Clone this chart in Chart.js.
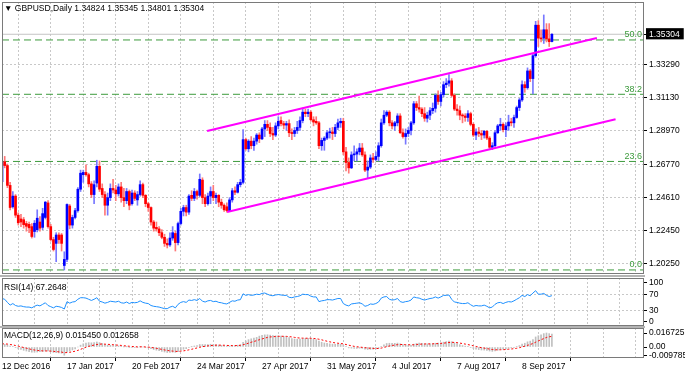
<!DOCTYPE html>
<html><head><meta charset="utf-8">
<script src="https://cdn.jsdelivr.net/npm/chart.js@4.4.1/dist/chart.umd.min.js"></script>
<style>
html,body{margin:0;padding:0;background:#fff;}
#wrap{position:relative;width:685px;height:375px;overflow:hidden;background:#fff;font-family:'Liberation Sans',Arial,sans-serif;}
canvas{position:absolute;left:0;}
.lbl{position:absolute;font-size:8.5px;line-height:10px;color:#000;white-space:nowrap;}
.sep{position:absolute;left:0;width:645px;height:2px;background:#b4b4b4;}
</style></head><body>
<div id="wrap">
<canvas id="cMain" width="685" height="277" style="top:0"></canvas>
<canvas id="cRsi" width="685" height="50" style="top:277px"></canvas>
<canvas id="cMacd" width="685" height="48" style="top:327px"></canvas>
<div class="sep" style="top:275px"></div>
<div class="sep" style="top:326px"></div>
<div class="lbl" id="hdr" style="left:4px;top:3px"></div>
<div class="lbl" id="rsiLbl" style="left:4px;top:282px"></div>
<div class="lbl" id="macdLbl" style="left:4px;top:330px"></div>
</div>
<script>
const symbol = 'GBPUSD', period = 'Daily';
const tickLabels = ['12 Dec 2016','17 Jan 2017','20 Feb 2017','24 Mar 2017','27 Apr 2017','31 May 2017','4 Jul 2017','7 Aug 2017','8 Sep 2017'];
const priceTicks = [1.2025,1.2245,1.2461,1.2677,1.2897,1.3113,1.3329];

const openP = [
1.2565,1.2695,1.2670,1.2540,1.2400,1.2470,1.2345,1.2320,1.2315,1.2290,1.2285,1.2270,
1.2238,1.2250,1.2300,1.2265,1.2330,1.2425,1.2270,1.2185,1.2160,1.2215,1.2215,1.2015,
1.2055,1.2405,1.2280,1.2330,1.2375,1.2515,1.2610,1.2625,1.2610,1.2550,1.2480,1.2555,
1.2665,1.2520,1.2480,1.2410,1.2460,1.2520,1.2510,1.2485,1.2530,1.2460,1.2440,1.2500,
1.2420,1.2490,1.2445,1.2480,1.2545,1.2475,1.2420,1.2395,1.2300,1.2265,1.2255,1.2230,
1.2200,1.2160,1.2150,1.2195,1.2225,1.2165,1.2290,1.2370,1.2395,1.2365,1.2475,1.2455,
1.2500,1.2475,1.2575,1.2460,1.2420,1.2470,1.2500,1.2460,1.2475,1.2430,1.2410,1.2400,
1.2375,1.2445,1.2505,1.2495,1.2545,1.2560,1.2840,1.2780,1.2830,1.2800,1.2830,1.2870,
1.2845,1.2910,1.2940,1.2920,1.2880,1.2870,1.2930,1.2965,1.2945,1.2935,1.2945,1.2885,
1.2880,1.2900,1.2920,1.2965,1.3020,1.3010,1.3020,1.2970,1.2960,1.2950,1.2800,1.2835,
1.2850,1.2885,1.2890,1.2880,1.2920,1.2950,1.2960,1.2760,1.2690,1.2655,1.2740,1.2745,
1.2760,1.2785,1.2740,1.2640,1.2660,1.2720,1.2710,1.2730,1.2800,1.2950,1.3000,1.3020,
1.2950,1.2930,1.2950,1.2995,1.2885,1.2860,1.2880,1.2900,1.2950,1.3075,1.3050,1.3040,
1.3010,1.2980,1.3000,1.3030,1.3045,1.3130,1.3090,1.3135,1.3200,1.3210,1.3225,1.3130,
1.3040,1.3030,1.3000,1.2995,1.2985,1.3010,1.2940,1.2870,1.2890,1.2880,1.2870,1.2895,
1.2850,1.2790,1.2800,1.2885,1.2930,1.2940,1.2905,1.2930,1.2955,1.2950,1.2985,1.3050,
1.3100,1.3200,1.3180,1.3290,1.3240,1.3390,1.3590,1.3505,1.3505,1.3560,1.3500,1.34824];
const highP = [
1.2705,1.2730,1.2680,1.2560,1.2500,1.2480,1.2360,1.2350,1.2330,1.2305,1.2300,1.2290,
1.2310,1.2380,1.2335,1.2390,1.2435,1.2440,1.2285,1.2200,1.2230,1.2230,1.2225,1.2105,
1.2420,1.2415,1.2345,1.2390,1.2525,1.2640,1.2640,1.2674,1.2620,1.2565,1.2570,1.2705,
1.2700,1.2550,1.2500,1.2490,1.2550,1.2580,1.2540,1.2550,1.2560,1.2520,1.2520,1.2510,
1.2510,1.2505,1.2500,1.2570,1.2555,1.2480,1.2430,1.2400,1.2310,1.2300,1.2270,1.2250,
1.2220,1.2190,1.2230,1.2270,1.2240,1.2300,1.2390,1.2410,1.2410,1.2480,1.2505,1.2520,
1.2510,1.2615,1.2590,1.2480,1.2490,1.2530,1.2540,1.2490,1.2480,1.2450,1.2420,1.2425,
1.2460,1.2520,1.2530,1.2560,1.2580,1.2905,1.2850,1.2840,1.2860,1.2850,1.2880,1.2885,
1.2920,1.2965,1.2965,1.2950,1.2920,1.2950,1.2990,1.2990,1.2960,1.2960,1.2970,1.2910,
1.2920,1.2960,1.2990,1.3047,1.3040,1.3040,1.3030,1.2990,1.2990,1.2960,1.2850,1.2860,
1.2900,1.2915,1.2920,1.2940,1.2975,1.2980,1.2980,1.2790,1.2720,1.2760,1.2800,1.2780,
1.2815,1.2815,1.2760,1.2700,1.2740,1.2750,1.2760,1.2820,1.2975,1.3030,1.3030,1.3030,
1.2965,1.2960,1.3010,1.3010,1.2910,1.2910,1.2920,1.2960,1.3090,1.3090,1.3126,1.3050,
1.3050,1.3020,1.3050,1.3080,1.3140,1.3160,1.3150,1.3220,1.3240,1.3267,1.3240,1.3140,
1.3070,1.3060,1.3010,1.3010,1.3030,1.3020,1.2950,1.2910,1.2920,1.2900,1.2900,1.2900,
1.2860,1.2820,1.2900,1.2940,1.2980,1.2950,1.2950,1.3000,1.2980,1.3000,1.3060,1.3110,
1.3225,1.3220,1.3310,1.3300,1.3400,1.3615,1.3620,1.3560,1.3657,1.3600,1.3600,1.35345];
const lowP = [
1.2550,1.2655,1.2525,1.2380,1.2390,1.2330,1.2280,1.2270,1.2260,1.2240,1.2230,1.2195,
1.2200,1.2235,1.2240,1.2250,1.2320,1.2260,1.2175,1.2110,1.2040,1.2160,1.2110,1.1986,
1.2040,1.2255,1.2260,1.2320,1.2365,1.2500,1.2560,1.2600,1.2530,1.2460,1.2420,1.2530,
1.2500,1.2460,1.2345,1.2345,1.2440,1.2490,1.2440,1.2470,1.2430,1.2400,1.2420,1.2380,
1.2410,1.2440,1.2410,1.2470,1.2460,1.2400,1.2370,1.2280,1.2240,1.2240,1.2210,1.2190,
1.2140,1.2130,1.2140,1.2180,1.2110,1.2150,1.2280,1.2340,1.2340,1.2350,1.2440,1.2440,
1.2450,1.2465,1.2420,1.2400,1.2410,1.2420,1.2440,1.2420,1.2400,1.2390,1.2370,1.2365,
1.2370,1.2430,1.2480,1.2490,1.2530,1.2550,1.2770,1.2760,1.2780,1.2770,1.2810,1.2820,
1.2840,1.2860,1.2900,1.2860,1.2840,1.2860,1.2910,1.2930,1.2910,1.2900,1.2860,1.2840,
1.2860,1.2880,1.2900,1.2950,1.2990,1.2990,1.2960,1.2930,1.2940,1.2780,1.2770,1.2770,
1.2840,1.2850,1.2840,1.2860,1.2905,1.2920,1.2740,1.2635,1.2620,1.2650,1.2700,1.2700,
1.2740,1.2730,1.2630,1.2589,1.2650,1.2690,1.2700,1.2700,1.2790,1.2940,1.2990,1.2930,
1.2910,1.2900,1.2930,1.2880,1.2850,1.2810,1.2860,1.2870,1.2940,1.3030,1.3020,1.2990,
1.2960,1.2955,1.2970,1.3010,1.3020,1.3070,1.3060,1.3120,1.3180,1.3190,1.3120,1.3030,
1.3000,1.2970,1.2950,1.2960,1.2960,1.2930,1.2860,1.2840,1.2860,1.2840,1.2850,1.2840,
1.2775,1.2774,1.2790,1.2880,1.2900,1.2890,1.2860,1.2900,1.2930,1.2920,1.2980,1.3030,
1.3090,1.3150,1.3170,1.3220,1.3140,1.3380,1.3450,1.3480,1.3470,1.3480,1.3450,1.34801];
const closeP = [
1.2695,1.2670,1.2540,1.2395,1.2470,1.2345,1.2295,1.2300,1.2283,1.2272,1.2262,1.2205,
1.2292,1.2325,1.2260,1.2355,1.2430,1.2270,1.2185,1.2120,1.2215,1.2185,1.2160,1.2055,
1.2415,1.2280,1.2330,1.2375,1.2515,1.2620,1.2625,1.2610,1.2550,1.2480,1.2545,1.2665,
1.2515,1.2480,1.2410,1.2460,1.2520,1.2510,1.2485,1.2530,1.2460,1.2440,1.2500,1.2410,
1.2490,1.2455,1.2480,1.2545,1.2475,1.2420,1.2395,1.2300,1.2260,1.2255,1.2230,1.2200,
1.2160,1.2150,1.2195,1.2230,1.2165,1.2290,1.2370,1.2395,1.2365,1.2470,1.2455,1.2500,
1.2475,1.2580,1.2460,1.2420,1.2470,1.2500,1.2460,1.2475,1.2430,1.2410,1.2380,1.2375,
1.2445,1.2505,1.2495,1.2545,1.2560,1.2840,1.2780,1.2830,1.2800,1.2830,1.2870,1.2845,
1.2910,1.2940,1.2920,1.2880,1.2870,1.2930,1.2960,1.2945,1.2935,1.2945,1.2885,1.2880,
1.2900,1.2920,1.2965,1.3020,1.3010,1.3020,1.2970,1.2955,1.2950,1.2800,1.2835,1.2850,
1.2885,1.2890,1.2880,1.2920,1.2950,1.2960,1.2760,1.2690,1.2655,1.2740,1.2745,1.2760,
1.2785,1.2740,1.2640,1.2660,1.2720,1.2710,1.2730,1.2800,1.2950,1.3000,1.3020,1.2950,
1.2930,1.2950,1.2995,1.2885,1.2860,1.2880,1.2900,1.2950,1.3075,1.3050,1.3040,1.3010,
1.2980,1.3000,1.3030,1.3045,1.3130,1.3090,1.3135,1.3200,1.3210,1.3225,1.3130,1.3040,
1.3030,1.3000,1.2995,1.2985,1.3010,1.2940,1.2870,1.2890,1.2880,1.2870,1.2895,1.2850,
1.2790,1.2800,1.2885,1.2930,1.2940,1.2905,1.2930,1.2955,1.2950,1.2985,1.3050,1.3100,
1.3200,1.3180,1.3290,1.3240,1.3390,1.3590,1.3505,1.3500,1.3560,1.3500,1.3482,1.35304];

const fibLevels = ['0.0','23.6','38.2','50.0'];
const fibPrices = [1.1986,1.2697,1.3137,1.3493];
const upperChannel = [[75.7,1.28965],[219.6,1.35059]];
const lowerChannel = [[83.1,1.23657],[226.5,1.29731]];

const rsiVals = [
60,58,50,43,47,42,40,41,39,38,38,36,
40,43,41,45,49,42,39,36,40,39,37,33,
52,48,51,52,58,62,62,61,58,55,58,62,
53,51,48,50,53,52,51,53,49,48,51,47,
50,49,50,54,50,48,47,42,40,39,38,36,
34,34,38,40,36,45,50,52,50,56,55,57,
55,60,53,51,54,55,52,53,50,49,47,46,
50,54,53,56,57,72,68,70,68,69,71,70,
73,74,71,68,67,69,70,69,68,68,63,62,
64,65,67,71,70,70,66,64,64,52,54,55,
57,57,56,58,60,60,47,43,41,46,47,48,
49,46,40,42,46,45,47,51,61,64,65,58,
56,57,60,52,50,52,53,56,64,62,61,58,
56,58,60,61,64,61,64,68,68,69,58,51,
50,48,47,47,49,44,40,42,41,41,43,40,
36,38,45,49,50,47,50,52,51,54,58,62,
68,65,70,67,74,80,71,71,73,68,65,67.2648];
const rsiTicks = [0,30,70,100];
const rsiLevels = [30,70];

const macdMain = [
.0030,.0032,.0025,.0010,.0005,-.0008,-.0022,-.0030,-.0040,-.0048,-.0055,-.0062,
-.0063,-.0060,-.0055,-.0055,-.0048,-.0048,-.0055,-.0065,-.0068,-.0070,-.0075,-.009785,
-.0060,-.0048,-.0035,-.0022,.0000,.0022,.0038,.0048,.0052,.0050,.0052,.0060,
.0052,.0042,.0028,.0022,.0020,.0017,.0013,.0013,.0008,.0002,.0002,-.0004,
-.0004,-.0005,-.0005,.0002,.0000,-.0005,-.0010,-.0020,-.0030,-.0038,-.0045,-.0052,
-.0060,-.0066,-.0066,-.0062,-.0064,-.0055,-.0040,-.0027,-.0020,-.0008,.0002,.0012,
.0018,.0030,.0030,.0028,.0030,.0033,.0030,.0028,.0024,.0020,.0014,.0010,
.0011,.0015,.0017,.0022,.0027,.0055,.0072,.0088,.0098,.0106,.0115,.0130,
.0138,.0145,.0146,.0142,.0136,.0134,.0134,.0131,.0126,.0122,.0112,.0102,
.0096,.0093,.0094,.0100,.0103,.0104,.0099,.0093,.0088,.0070,.0057,.0048,
.0043,.0038,.0034,.0032,.0033,.0035,.0020,.0004,-.0010,-.0014,-.0016,-.0016,
-.0014,-.0016,-.0025,-.0030,-.0028,-.0027,-.0024,-.0015,.0005,.0025,.0042,.0045,
.0044,.0044,.0047,.0038,.0028,.0022,.0018,.0020,.0034,.0042,.0046,.0045,
.0040,.0038,.0038,.0040,.0045,.0047,.0050,.0058,.0065,.0070,.0063,.0050,
.0040,.0028,.0018,.0010,.0005,-.0005,-.0018,-.0025,-.0031,-.0036,-.0037,-.0040,
-.0048,-.0052,-.0047,-.0038,-.0030,-.0027,-.0022,-.0015,-.0010,-.0004,.0005,.0017,
.0035,.0045,.0062,.0070,.0090,.0120,.0135,.0145,.0160,.016725,.0160,.015450];
const macdSignal = [
.0038,.0037,.0035,.0030,.0025,.0018,.0010,.0002,-.0006,-.0014,-.0022,-.0030,
-.0036,-.0041,-.0044,-.0046,-.0047,-.0047,-.0049,-.0052,-.0055,-.0058,-.0061,-.0068,
-.0066,-.0063,-.0057,-.0050,-.0040,-.0028,-.0015,-.0003,.0008,.0016,.0023,.0030,
.0034,.0036,.0034,.0032,.0030,.0027,.0024,.0022,.0019,.0015,.0012,.0009,
.0006,.0004,.0002,.0002,.0002,.0001,-.0001,-.0005,-.0010,-.0016,-.0022,-.0028,
-.0035,-.0041,-.0046,-.0049,-.0052,-.0053,-.0050,-.0046,-.0041,-.0034,-.0027,-.0019,
-.0011,-.0003,.0004,.0009,.0013,.0017,.0020,.0022,.0022,.0022,.0021,.0019,
.0017,.0017,.0017,.0018,.0020,.0027,.0036,.0046,.0057,.0066,.0076,.0087,
.0096,.0106,.0114,.0120,.0123,.0125,.0127,.0128,.0128,.0127,.0124,.0120,
.0115,.0110,.0107,.0106,.0105,.0105,.0104,.0102,.0099,.0093,.0086,.0077,
.0069,.0062,.0055,.0049,.0045,.0042,.0037,.0030,.0022,.0014,.0008,.0003,
-.0001,-.0004,-.0008,-.0012,-.0015,-.0017,-.0018,-.0018,-.0013,-.0005,.0004,.0012,
.0018,.0023,.0028,.0030,.0030,.0028,.0027,.0026,.0027,.0030,.0033,.0035,
.0036,.0037,.0037,.0038,.0039,.0041,.0043,.0046,.0050,.0054,.0056,.0055,
.0052,.0047,.0041,.0035,.0029,.0022,.0014,.0006,-.0001,-.0008,-.0013,-.0019,
-.0025,-.0030,-.0033,-.0034,-.0033,-.0032,-.0030,-.0027,-.0024,-.0020,-.0015,-.0008,
.0001,.0010,.0020,.0030,.0042,.0057,.0073,.0087,.0101,.0114,.0122,.012658];
const macdTicks = [-0.009785, 0, 0.016725];

/* ---------- layout / style constants ---------- */
const FONT = "'Liberation Sans', Arial, sans-serif";
const X_MIN = 0, X_MAX = 237, GRID_STEP = 12, LABEL_STEP = 24;
const GRID_COL = '#c8c8c8', FRAME_COL = '#7a7a7a';
const BULL = '#0000ff', BEAR = '#ff0000', BULL_W = '#7878ff', BEAR_W = '#ff7878';
const FIB_COL = '#3d9b3d', CH_COL = '#ff00ff';
const last = closeP.length - 1;
const lastClose = closeP[last];

Chart.defaults.font.family = FONT;
Chart.defaults.font.size = 8.5;
Chart.defaults.color = '#000';

document.getElementById('hdr').textContent = '\u25BC ' + symbol + ',' + period + ' ' +
  [openP[last], highP[last], lowP[last], closeP[last]].map(v => v.toFixed(5)).join(' ');
document.getElementById('rsiLbl').textContent = 'RSI(14) ' + rsiVals[last].toFixed(4);
document.getElementById('macdLbl').textContent = 'MACD(12,26,9) ' + macdMain[last].toFixed(6) + ' ' + macdSignal[last].toFixed(6);

function xScale(showLabels, h) {
  return {
    type: 'linear', min: X_MIN, max: X_MAX, offset: false,
    afterBuildTicks: s => { const t = []; for (let v = 0; v < X_MAX; v += GRID_STEP) t.push({value: v}); s.ticks = t; },
    afterFit: s => { s.height = h; s.paddingLeft = 0; s.paddingRight = 0; },
    grid: { color: GRID_COL, lineWidth: 1, drawTicks: showLabels, tickLength: 3, tickBorderDash: [],
      tickColor: c => (c.tick && c.tick.value % LABEL_STEP === 0) ? '#000' : 'rgba(0,0,0,0)' },
    border: { display: false, dash: [2, 2] },
    ticks: { display: showLabels, autoSkip: false, maxRotation: 0, minRotation: 0, align: 'start', padding: 1,
      font: { size: 8.5 }, color: '#000',
      callback: v => (v % LABEL_STEP === 0 && tickLabels[v / LABEL_STEP]) ? tickLabels[v / LABEL_STEP] : '' }
  };
}
function yRight(min, max, tickVals, fmt, gridFn, extra) {
  return Object.assign({
    type: 'linear', position: 'right', min: min, max: max,
    afterBuildTicks: s => { s.ticks = tickVals.map(v => ({value: v})); },
    afterFit: s => { s.width = 41; s.paddingTop = 0; s.paddingBottom = 0; },
    grid: { color: gridFn, lineWidth: 1, drawTicks: true, tickLength: 3, tickColor: '#000', tickBorderDash: [] },
    border: { display: false, dash: [2, 2] },
    ticks: { autoSkip: false, padding: 2, font: { size: 8.5 }, color: '#000', callback: fmt }
  }, extra || {});
}
const framePlugin = {
  id: 'frame',
  afterDraw(chart) {
    const a = chart.chartArea, ctx = chart.ctx;
    ctx.save(); ctx.strokeStyle = FRAME_COL; ctx.lineWidth = 1;
    ctx.strokeRect(Math.round(a.left) + 0.5, Math.round(a.top) + 0.5, Math.round(a.right - a.left) - 1, Math.round(a.bottom - a.top) - 1);
    ctx.restore();
  }
};
const fibLabelPlugin = {
  id: 'fibLabels',
  afterDatasetsDraw(chart) {
    const ctx = chart.ctx, y = chart.scales.y, a = chart.chartArea;
    ctx.save(); ctx.fillStyle = FIB_COL; ctx.font = '9px ' + FONT; ctx.textAlign = 'right'; ctx.textBaseline = 'bottom';
    fibPrices.forEach((p, i) => ctx.fillText(fibLevels[i], a.right - 2, y.getPixelForValue(p) - 0.5));
    ctx.restore();
  }
};

/* ---------- main price chart ---------- */
const idx = closeP.map((_, i) => i);
const wickData = idx.map(i => ({x: i, y: [lowP[i], highP[i]]}));
const bodyData = idx.map(i => ({x: i, y: [Math.min(openP[i], closeP[i]), Math.max(openP[i], closeP[i])]}));
const isBull = idx.map(i => closeP[i] >= openP[i]);
const hLine = p => [{x: X_MIN, y: p}, {x: X_MAX, y: p}];
const lineDs = (data, color, width, dash, order) => ({type: 'line', data, borderColor: color, borderWidth: width,
  borderDash: dash, pointRadius: 0, fill: false, tension: 0, order});

const mainDatasets = [];
fibPrices.forEach(p => mainDatasets.push(lineDs(hLine(p), FIB_COL, 1, [7, 4], 10)));
mainDatasets.push(lineDs(hLine(lastClose), '#c4c4c4', 1, [], 9));
mainDatasets.push({type: 'bar', data: wickData, backgroundColor: isBull.map(b => b ? BULL_W : BEAR_W),
  barThickness: 1, grouped: false, borderWidth: 0, order: 5});
mainDatasets.push({type: 'bar', data: bodyData, backgroundColor: isBull.map(b => b ? BULL : BEAR),
  barThickness: 2, minBarLength: 1, grouped: false, borderWidth: 0, order: 4});
mainDatasets.push(lineDs(upperChannel.map(p => ({x: p[0], y: p[1]})), CH_COL, 2, [], 0));
mainDatasets.push(lineDs(lowerChannel.map(p => ({x: p[0], y: p[1]})), CH_COL, 2, [], 0));

const commonOpts = {
  responsive: false, animation: false, devicePixelRatio: 1, events: [],
  plugins: { legend: { display: false }, tooltip: { enabled: false }, title: { display: false } }
};

new Chart(document.getElementById('cMain'), {
  type: 'bar',
  data: { datasets: mainDatasets },
  options: Object.assign({}, commonOpts, {
    layout: { padding: { left: 2, top: 2, right: 0, bottom: 0 } },
    scales: {
      x: xScale(false, 3),
      y: yRight(1.19594, 1.37418, priceTicks.concat([lastClose]), v => v.toFixed(5),
        c => (c.tick && c.tick.value === lastClose) ? 'rgba(0,0,0,0)' : GRID_COL,
        { ticks: { autoSkip: false, padding: 2, font: { size: 8.5 },
            color: c => (c.tick && c.tick.value === lastClose) ? '#fff' : '#000',
            showLabelBackdrop: c => !!(c.tick && c.tick.value === lastClose),
            backdropColor: '#000', backdropPadding: { top: 1, bottom: 0, left: 3, right: 4 },
            callback: v => v.toFixed(5) } })
    }
  }),
  plugins: [framePlugin, fibLabelPlugin]
});

/* ---------- RSI ---------- */
new Chart(document.getElementById('cRsi'), {
  type: 'line',
  data: { datasets: [ lineDs(idx.map(i => ({x: i, y: rsiVals[i]})), '#1e90ff', 1, [], 0) ] },
  options: Object.assign({}, commonOpts, {
    layout: { padding: { left: 2, top: 1, right: 0, bottom: 0 } },
    scales: {
      x: xScale(false, 1),
      y: yRight(-10.5, 112.5, rsiTicks, v => String(v),
        c => (c.tick && rsiLevels.indexOf(c.tick.value) >= 0) ? GRID_COL : 'rgba(0,0,0,0)')
    }
  }),
  plugins: [framePlugin]
});

/* ---------- MACD ---------- */
new Chart(document.getElementById('cMacd'), {
  type: 'bar',
  data: { datasets: [
    {type: 'bar', data: idx.map(i => ({x: i, y: macdMain[i]})), backgroundColor: '#c0c0c0', barThickness: 1,
      grouped: false, borderWidth: 0, order: 2},
    lineDs(idx.map(i => ({x: i, y: macdSignal[i]})), '#ff0000', 1, [2, 2], 1)
  ] },
  options: Object.assign({}, commonOpts, {
    layout: { padding: { left: 2, top: 1, right: 0, bottom: 0 } },
    scales: {
      x: xScale(true, 17),
      y: yRight(-0.01313, 0.0227, macdTicks, v => v === 0 ? '0.00' : v.toFixed(6), () => 'rgba(0,0,0,0)')
    }
  }),
  plugins: [framePlugin]
});
</script>
</body></html>
